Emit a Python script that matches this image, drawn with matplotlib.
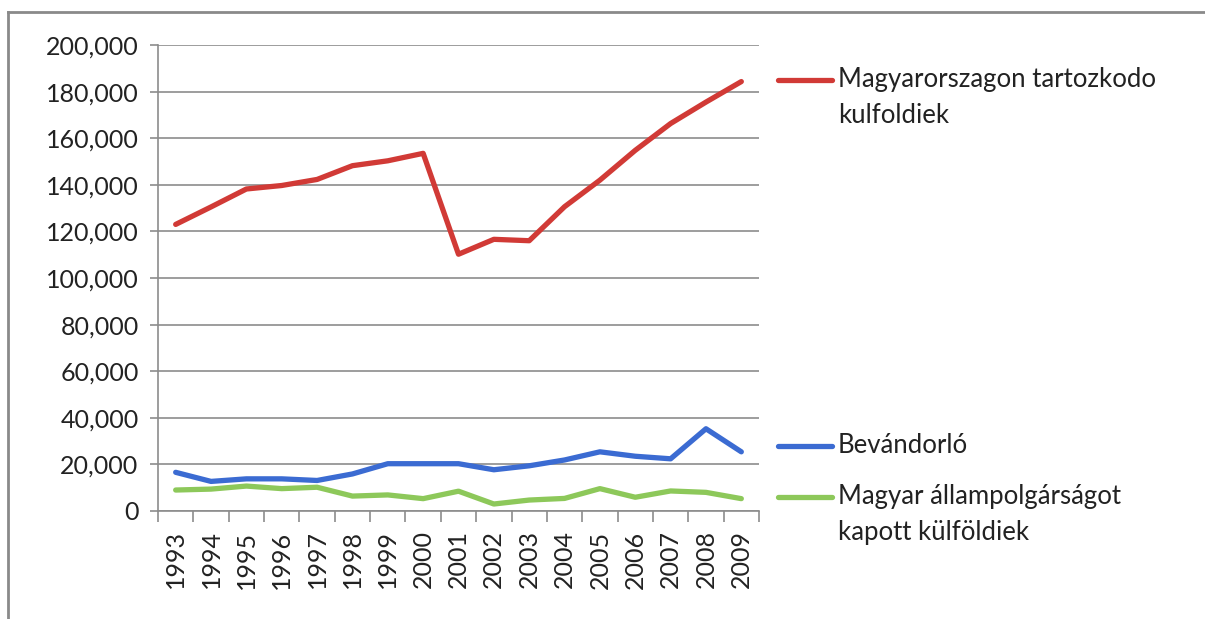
import matplotlib
matplotlib.use("Agg")
import matplotlib.pyplot as plt
from matplotlib.lines import Line2D
from matplotlib.ticker import FuncFormatter, MultipleLocator
import numpy as np

plt.rcParams['font.family'] = ['Lato', 'DejaVu Sans']

years = [str(y) for y in range(1993, 2010)]

# Magyarorszagon tartozkodo kulfoldiek
foreigners = [123000, 130500, 138200, 139700, 142300, 148200, 150300, 153500,
              110200, 116600, 116000, 130600, 142000, 154800, 166300, 175500, 184300]
# Bevandorlo
immigrants = [16600, 12700, 13800, 13800, 13100, 15900, 20300, 20300,
              20300, 17700, 19400, 21900, 25400, 23500, 22400, 35300, 25400]
# Magyar allampolgarsagot kapott kulfoldiek
citizenship = [9000, 9400, 10700, 9600, 10200, 6400, 6900, 5300,
               8500, 3000, 4700, 5400, 9600, 5900, 8600, 8000, 5300]

series_names = ['Magyarorszagon tartozkodo\nkulfoldiek',
                'Bevándorló',
                'Magyar állampolgárságot\nkapott külföldiek']
series_colors = ['#d13a36', '#3b6bd2', '#8dc85a']

W, H = 1205, 619
fig = plt.figure(figsize=(W / 100, H / 100), dpi=100)
ax = fig.add_axes([158 / W, 1 - 511 / H, (759 - 158) / W, (511 - 45) / H])

x = np.arange(len(years))
for vals, c in zip([foreigners, immigrants, citizenship], series_colors):
    ax.plot(x, vals, color=c, lw=3.8, solid_capstyle='round', zorder=3)

ax.set_xlim(-0.5, len(years) - 0.5)
ax.set_ylim(0, 200000)
ax.yaxis.set_major_locator(MultipleLocator(20000))
ax.yaxis.set_major_formatter(FuncFormatter(lambda v, p: f'{int(v):,}'))
ax.grid(axis='y', color='#8c8c8c', lw=1.2)
ax.set_axisbelow(True)

ax.set_xticks(x)
ax.set_xticklabels(years, rotation=90)
ax.set_xticks(np.arange(len(years) + 1) - 0.5, minor=True)
ax.tick_params(axis='x', which='major', length=0, pad=14, labelsize=18, labelcolor='#222222')
ax.tick_params(axis='x', which='minor', length=8, width=1.2, color='#8c8c8c')
ax.tick_params(axis='y', length=6, width=1.2, color='#8c8c8c', labelsize=18,
               labelcolor='#222222', pad=8)

for s in ['top', 'right']:
    ax.spines[s].set_visible(False)
for s in ['left', 'bottom']:
    ax.spines[s].set_color('#8c8c8c')
    ax.spines[s].set_linewidth(1.2)

# legend, placed by hand beside the plot
legend_y = [80, 446, 497]
for name, c, ly in zip(series_names, series_colors, legend_y):
    fy = 1 - ly / H
    fig.add_artist(Line2D([778 / W, 832 / W], [fy, fy], color=c, lw=3.8,
                          solid_capstyle='round'))
    fig.text(838 / W, 1 - (ly - 13) / H, name, fontsize=18.5, color='#222222',
             va='top', ha='left', linespacing=1.55)

# outer frame (top and left edges of the pasted chart)
fig.add_artist(Line2D([8 / W, 1], [1 - 12 / H, 1 - 12 / H], color='#8a8a8a', lw=2))
fig.add_artist(Line2D([8 / W, 8 / W], [0, 1 - 12 / H], color='#8a8a8a', lw=2))

fig.savefig('out.png', dpi=100)
